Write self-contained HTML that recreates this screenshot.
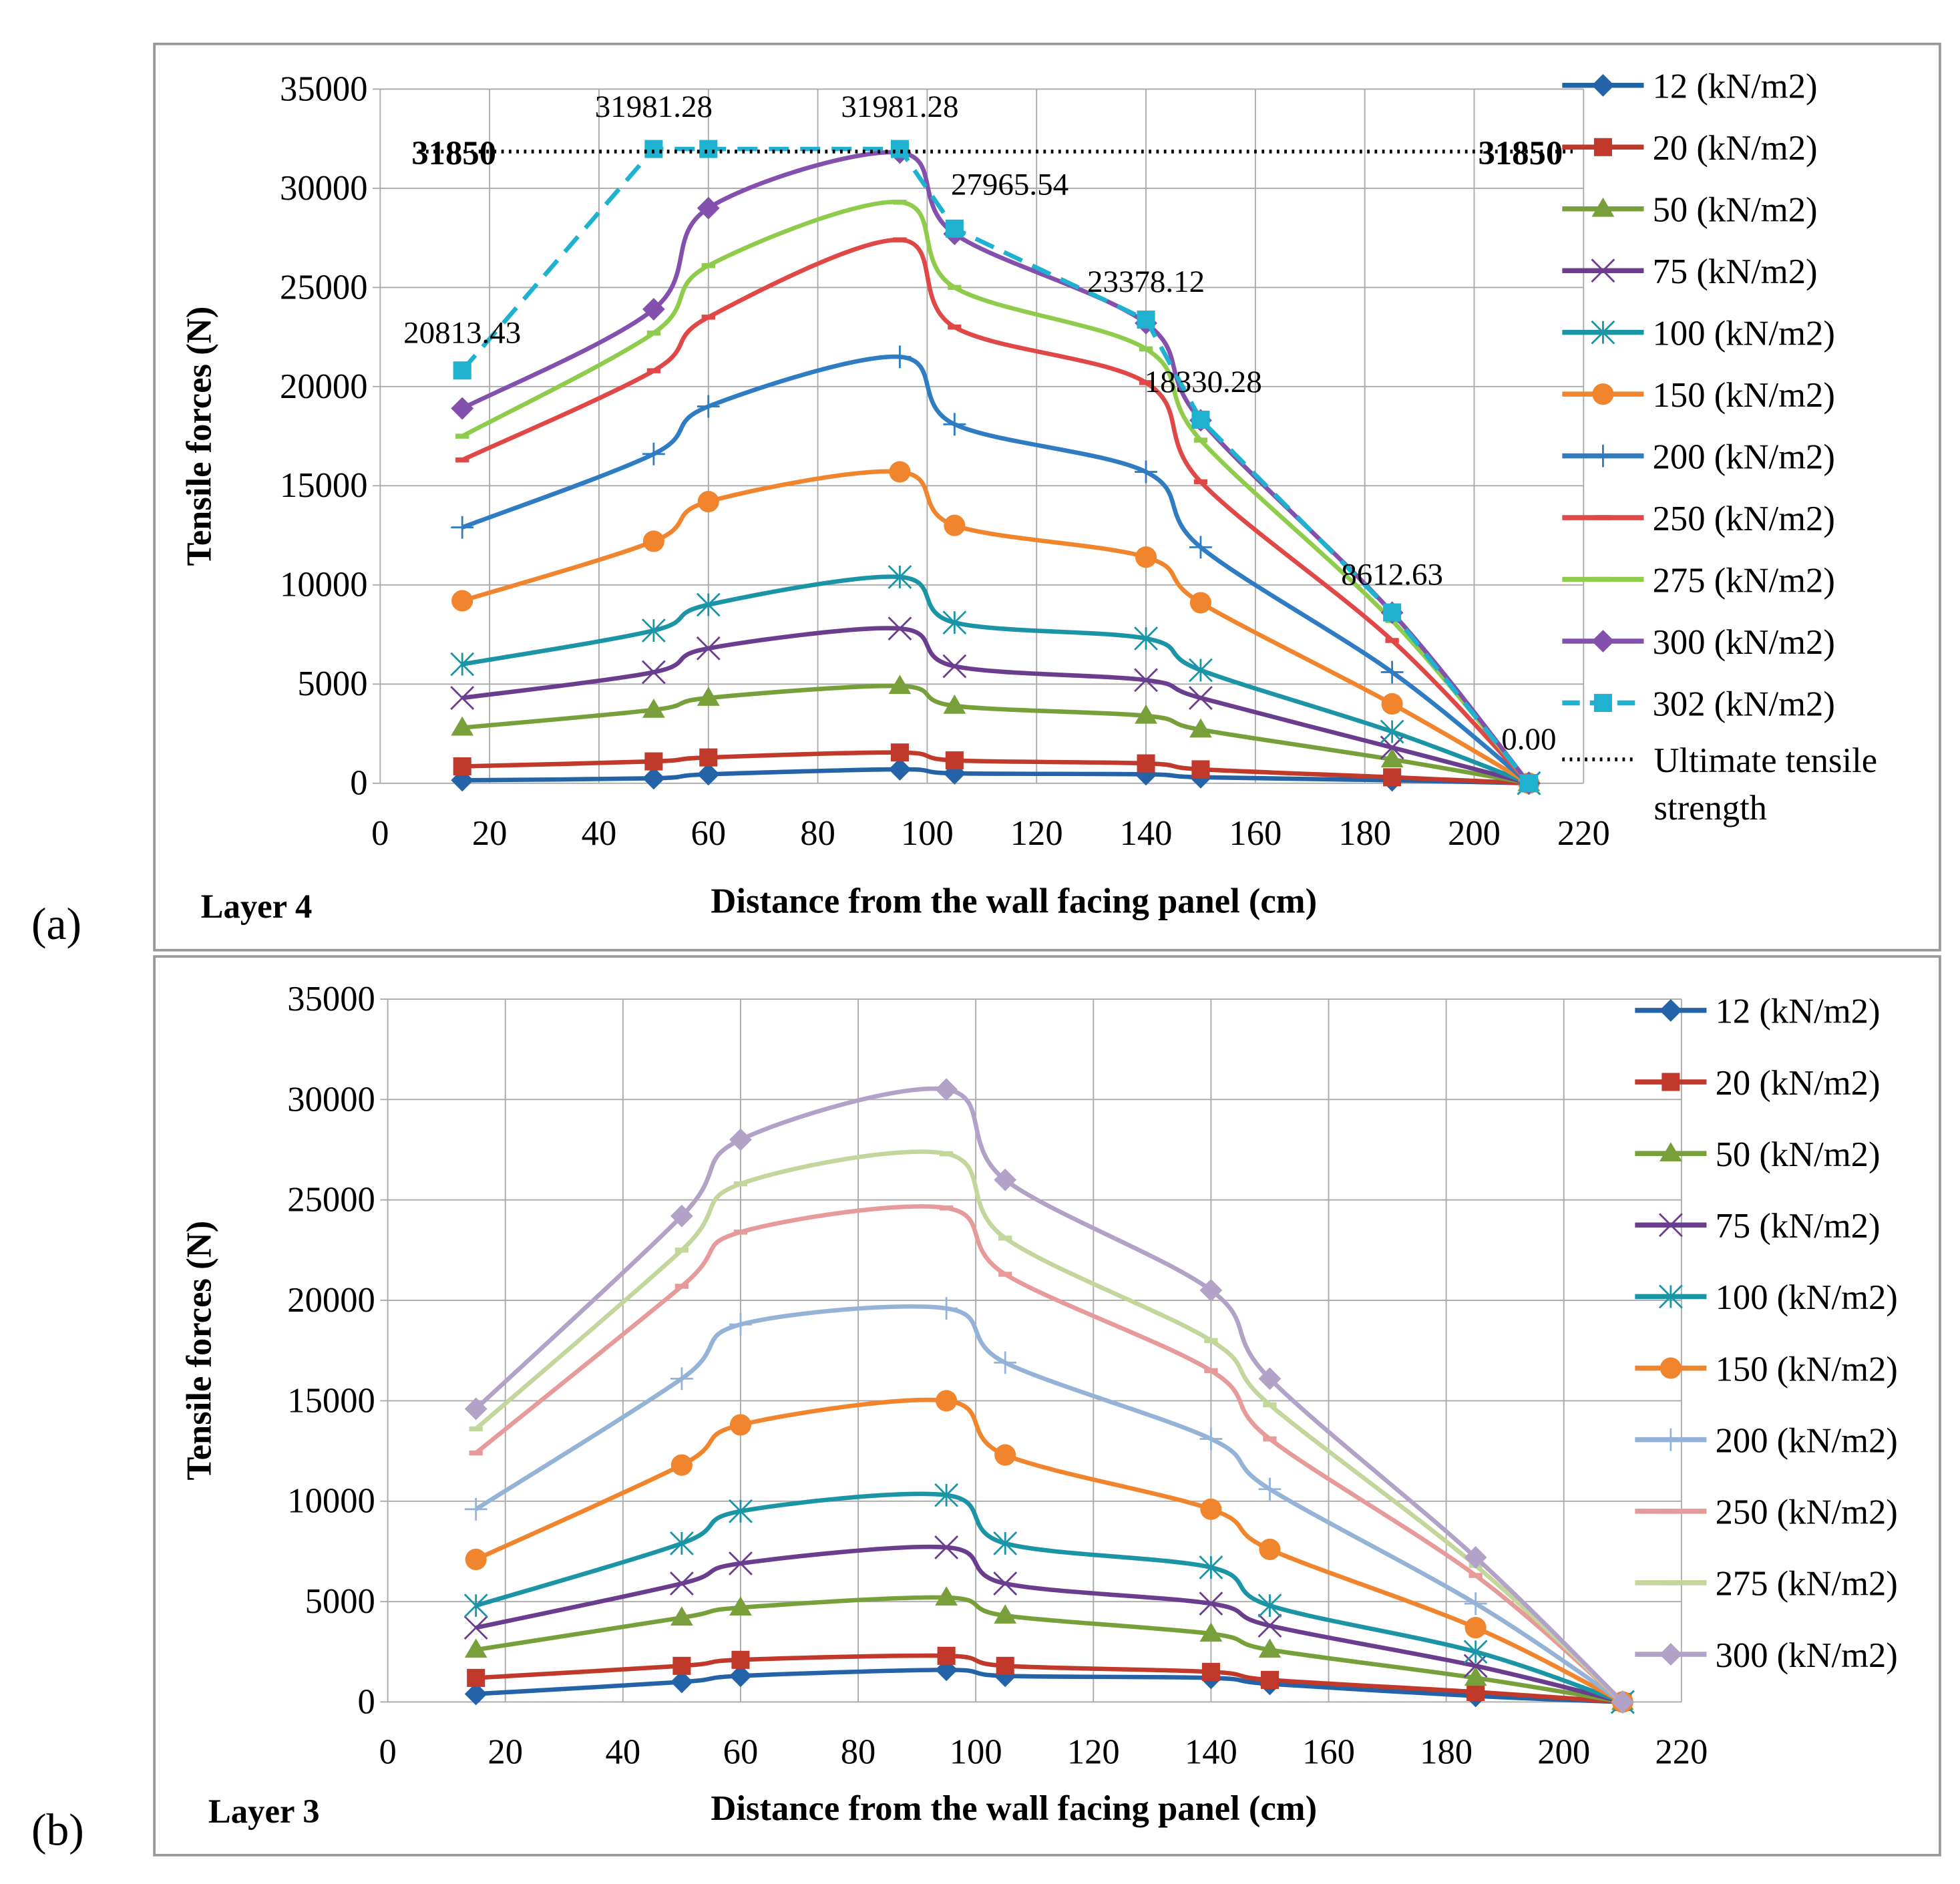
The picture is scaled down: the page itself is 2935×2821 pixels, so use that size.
<!DOCTYPE html>
<html><head><meta charset="utf-8"><style>
html,body{margin:0;padding:0;background:#fff;}
svg{display:block;}
svg text{font-family:"Liberation Serif",serif;}
</style></head><body>
<svg id="fig" width="2935" height="2821" viewBox="0 0 1562 1501" preserveAspectRatio="none" xmlns="http://www.w3.org/2000/svg">
<rect x="0" y="0" width="1562" height="1501" fill="#fff"/>
<rect x="123" y="35" width="1423" height="722" fill="none" stroke="#999" stroke-width="2"/>
<rect x="123" y="762" width="1423" height="716" fill="none" stroke="#999" stroke-width="2"/>
<g id="ga"></g>
<g id="gb"></g>
</svg>
<script>
const xVals=[15,50,60,95,105,140,150,185,210];
const xTicks=[0,20,40,60,80,100,120,140,160,180,200,220];
const yTicks=[0,5000,10000,15000,20000,25000,30000,35000];
const seriesNames=["12 (kN/m2)","20 (kN/m2)","50 (kN/m2)","75 (kN/m2)","100 (kN/m2)","150 (kN/m2)","200 (kN/m2)","250 (kN/m2)","275 (kN/m2)","300 (kN/m2)","302 (kN/m2)"];
const a12=[150,250,450,700,500,450,300,150,0];
const a20=[850,1100,1300,1550,1150,1000,700,300,0];
const a50=[2800,3700,4300,4900,3900,3400,2700,1200,0];
const a75=[4300,5600,6800,7800,5900,5200,4300,1800,0];
const a100=[6000,7700,9000,10400,8100,7300,5700,2600,0];
const a150=[9200,12200,14200,15700,13000,11400,9100,4000,0];
const a200=[12900,16600,19000,21500,18100,15700,11900,5600,0];
const a250=[16300,20800,23500,27400,23000,20200,15200,7200,0];
const a275=[17500,22700,26100,29300,25000,21900,17300,8200,0];
const a300=[18900,23900,29000,31800,27700,23200,18300,8600,0];
const a302=[20813.43,31981.28,31981.28,31981.28,27965.54,23378.12,18330.28,8612.63,0];
const a302Labels=["20813.43","31981.28","","31981.28","27965.54","23378.12","18330.28","8612.63","0.00"];
const ultimate=31850;
const b12=[400,1000,1300,1600,1300,1200,900,300,0];
const b20=[1200,1800,2100,2300,1800,1500,1100,500,0];
const b50=[2600,4200,4700,5200,4300,3400,2600,1200,0];
const b75=[3700,5900,6900,7700,5900,4900,3800,1800,0];
const b100=[4800,7900,9500,10300,7900,6700,4800,2500,0];
const b150=[7100,11800,13800,15000,12300,9600,7600,3700,0];
const b200=[9600,16100,18800,19600,16900,13100,10600,4900,0];
const b250=[12400,20700,23400,24600,21300,16500,13100,6300,0];
const b275=[13600,22500,25800,27300,23100,18000,14800,6800,0];
const b300=[14600,24200,28000,30500,26000,20500,16100,7200,0];

const NS="http://www.w3.org/2000/svg";
function mk(p,tag,at,txt){const e=document.createElementNS(NS,tag);for(const k in at)e.setAttribute(k,at[k]);if(txt!==undefined)e.textContent=txt;p.appendChild(e);return e;}
const markers=["diamond","square","triangle","x","star","circle","plus","dash","dash","diamond","square"];
const colA=["#2563a8","#c0392b","#77a03a","#6a3d8f","#1b95a5","#f0852d","#2f7cc2","#e04848","#8fcc4c","#8350ad","#1fb2d0"];
const colB=["#2563a8","#c0392b","#77a03a","#6a3d8f","#1b95a5","#f0852d","#95b3d7","#e69a9a","#c3d69b","#b3a2c7"];
function drawMarker(g,type,x,y,c,s){
 if(type==="diamond")return mk(g,"polygon",{points:`${x},${y-s} ${x+s},${y} ${x},${y+s} ${x-s},${y}`,fill:c});
 if(type==="square")return mk(g,"rect",{x:x-s*0.8,y:y-s*0.8,width:s*1.6,height:s*1.6,fill:c});
 if(type==="triangle")return mk(g,"polygon",{points:`${x},${y-s} ${x+s},${y+s*0.7} ${x-s},${y+s*0.7}`,fill:c});
 if(type==="circle")return mk(g,"circle",{cx:x,cy:y,r:s*0.95,fill:c});
 if(type==="x")return mk(g,"path",{d:`M${x-s},${y-s}L${x+s},${y+s}M${x-s},${y+s}L${x+s},${y-s}`,stroke:c,"stroke-width":1.5});
 if(type==="star")return mk(g,"path",{d:`M${x-s},${y-s}L${x+s},${y+s}M${x-s},${y+s}L${x+s},${y-s}M${x},${y-s}L${x},${y+s}`,stroke:c,"stroke-width":1.5});
 if(type==="plus")return mk(g,"path",{d:`M${x-s},${y}L${x+s},${y}M${x},${y-s}L${x},${y+s}`,stroke:c,"stroke-width":1.5});
 return mk(g,"path",{d:`M${x-s*0.6},${y}L${x+s*0.6},${y}`,stroke:c,"stroke-width":4});
}
function smooth(pts){let d=`M${pts[0][0]},${pts[0][1]}`;for(let i=0;i<pts.length-1;i++){const p0=pts[i-1]||pts[i],p1=pts[i],p2=pts[i+1],p3=pts[i+2]||p2;const t=1/6;d+=`C${p1[0]+(p2[0]-p0[0])*t},${p1[1]+(p2[1]-p0[1])*t} ${p2[0]-(p3[0]-p1[0])*t},${p2[1]-(p3[1]-p1[1])*t} ${p2[0]},${p2[1]}`;}return d;}
function chart(g,cfg){
 const X=v=>cfg.x0+(cfg.x1-cfg.x0)*v/220, Y=v=>cfg.y0-(cfg.y0-cfg.y1)*v/35000;
 const grid=mk(g,"g",{});
 
 
 xTicks.forEach(t=>{mk(grid,"line",{x1:X(t),x2:X(t),y1:Y(35000),y2:Y(0),stroke:"#aaa","stroke-width":1});
  const l=mk(g,"text",{x:X(t),y:cfg.y0+49,"font-size":28,"text-anchor":"middle"},t);
  
  });
 yTicks.forEach(t=>{mk(grid,"line",{x1:X(0)-6,x2:X(220),y1:Y(t),y2:Y(t),stroke:"#aaa","stroke-width":1});
  const l=mk(g,"text",{x:X(0)-10,y:Y(t)+9,"font-size":28,"text-anchor":"end"},t);
  
  });
 const yt=mk(g,"text",{x:0,y:0,transform:`translate(${cfg.ytx},${(cfg.y0+cfg.y1)/2}) rotate(-90)`,"font-size":28,"font-weight":"bold","text-anchor":"middle"},"Tensile forces (N)");
 
 
 const xt=mk(g,"text",{x:808,y:cfg.xty,"font-size":28,"font-weight":"bold","text-anchor":"middle"},"Distance from the wall facing panel (cm)");
 
 
 const lay=mk(g,"text",{x:cfg.layx,y:cfg.layy,"font-size":27,"font-weight":"bold"},cfg.layer);
 
 
 const pl=mk(g,"text",{x:25,y:cfg.ply,"font-size":36},cfg.panel);
 
 
 cfg.series.forEach((s,i)=>{
  const sg=mk(g,"g",{});
  
  
  const pts=xVals.map((x,j)=>[X(x),Y(s[j])]);
  const dash=i===10;
  mk(sg,"path",{d:dash?pts.map((p,j)=>(j?"L":"M")+p[0]+","+p[1]).join(""):smooth(pts),fill:"none",stroke:cfg.cols[i],"stroke-width":3.5,"stroke-dasharray":dash?"16,9":"none"});
  pts.forEach(p=>{const m=drawMarker(sg,markers[i],p[0],p[1],cfg.cols[i],9);
   
   });
  const ly=cfg.legY0+cfg.legDy*i;
  const le=mk(g,"g",{});
  
  
  mk(le,"line",{x1:cfg.legX,x2:cfg.legX+cfg.legW,y1:ly,y2:ly,stroke:cfg.cols[i],"stroke-width":4,"stroke-dasharray":dash?"14,8":"none"});
  drawMarker(le,markers[i],cfg.legX+cfg.legW/2,ly,cfg.cols[i],9);
  mk(le,"text",{x:cfg.legX+cfg.legW+7,y:ly+10,"font-size":28},seriesNames[i]);
 });
 return {X,Y};
}
const A=chart(document.getElementById("ga"),{x0:303,x1:1262,y0:624,y1:71,ytx:168,xty:727,layx:160,layy:731,ply:748,panel:"(a)",layer:"Layer 4",
 series:[a12,a20,a50,a75,a100,a150,a200,a250,a275,a300,a302],cols:colA,legX:1245,legW:65,legY0:68,legDy:49.2});
(function(){const g=document.getElementById("ga");
 const ul=mk(g,"line",{x1:A.X(7),x2:A.X(218),y1:A.Y(ultimate),y2:A.Y(ultimate),stroke:"#000","stroke-width":3,"stroke-dasharray":"2,4"});
 
 
 mk(g,"text",{x:328,y:A.Y(ultimate)+10,"font-size":27,"font-weight":"bold"},ultimate);
 mk(g,"text",{x:1178,y:A.Y(ultimate)+10,"font-size":27,"font-weight":"bold"},ultimate);
 a302Labels.forEach((t,j)=>{if(!t)return;let yy=A.Y(a302[j])-22;if(j===1||j===3)yy=93;if(j===4)yy=155;if(j===8)yy=597;
  const l=mk(g,"text",{x:A.X(xVals[j])+(j===4?44:j===6?2:0),y:yy,"font-size":25,"text-anchor":"middle"},t);
  
  });
 const le=mk(g,"g",{});
 
 
 mk(le,"line",{x1:1245,x2:1305,y1:605,y2:605,stroke:"#000","stroke-width":3,"stroke-dasharray":"2,4"});
 mk(le,"text",{x:1318,y:615,"font-size":28},"Ultimate tensile");
 mk(le,"text",{x:1318,y:653,"font-size":28},"strength");
})();
chart(document.getElementById("gb"),{x0:309,x1:1340,y0:1356,y1:796,ytx:168,xty:1450,layx:166,layy:1452,ply:1470,panel:"(b)",layer:"Layer 3",
 series:[b12,b20,b50,b75,b100,b150,b200,b250,b275,b300],cols:colB,legX:1303,legW:57,legY0:805,legDy:57});
</script>
</body></html>
